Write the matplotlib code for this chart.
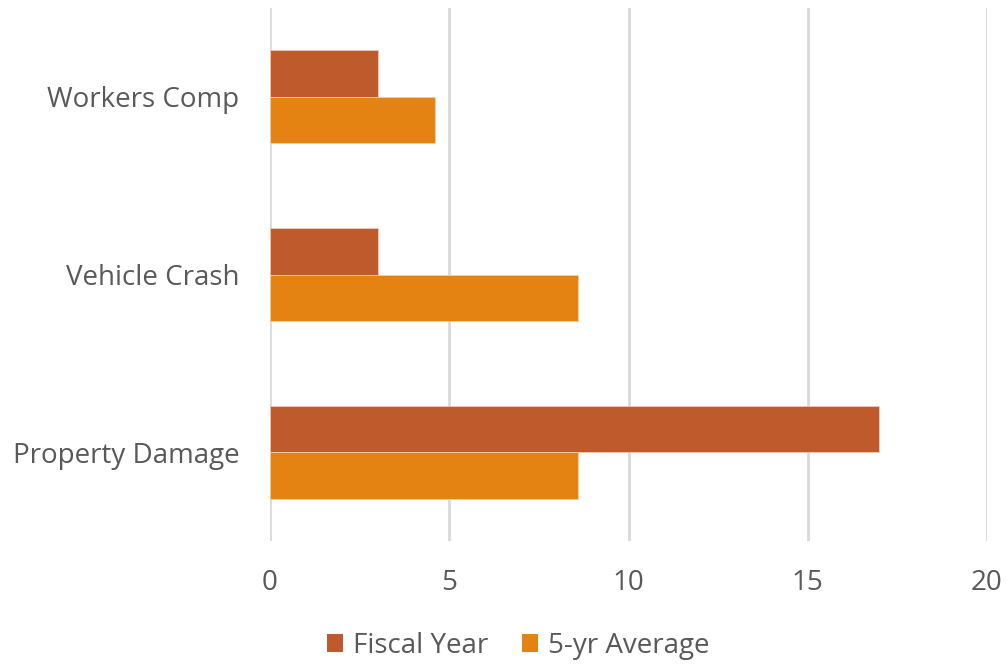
import matplotlib
matplotlib.use("Agg")
import matplotlib.pyplot as plt
import numpy as np
from matplotlib.patches import Patch

categories = ["Property Damage", "Vehicle Crash", "Workers Comp"]
fiscal_year = [17, 3, 3]
five_yr_avg = [8.6, 8.6, 4.6]
series_names = ["Fiscal Year", "5-yr Average"]
x_ticks = [0, 5, 10, 15, 20]

c_fiscal = "#BE5A2C"
c_avg = "#E48312"
text_color = "#595959"
grid_color = "#D9D9D9"
font = "Open Sans"
fsize = 20

fig = plt.figure(figsize=(10.06, 6.64), dpi=100)
ax = fig.add_axes([270/1006, 1 - 541/664, (987-270)/1006, (541-8)/664])

y = np.arange(len(categories))
h = 0.262
ax.barh(y + h/2, fiscal_year, height=h, color=c_fiscal, edgecolor="#F2C9B5", linewidth=0.6, zorder=3)
ax.barh(y - h/2, five_yr_avg, height=h, color=c_avg, edgecolor="#F6CFA0", linewidth=0.6, zorder=3)

ax.set_xlim(0, 20)
ax.set_ylim(-0.5, 2.5)
ax.set_xticks(x_ticks)
ax.set_xticklabels([str(t) for t in x_ticks])
ax.set_yticks(y)
ax.set_yticklabels(categories)
ax.grid(axis="x", color=grid_color, linewidth=2, zorder=0)
ax.set_axisbelow(True)
for s in ax.spines.values():
    s.set_visible(False)
ax.tick_params(axis="both", length=0, labelcolor=text_color, labelsize=fsize)
ax.tick_params(axis="x", pad=20)
ax.tick_params(axis="y", pad=22)
for lbl in ax.get_xticklabels() + ax.get_yticklabels():
    lbl.set_fontfamily(font)

handles = [Patch(facecolor=c_fiscal, edgecolor="none"), Patch(facecolor=c_avg, edgecolor="none")]
leg = fig.legend(handles, series_names, loc="center", bbox_to_anchor=(518/1006, 1 - 646/664),
                 ncol=2, frameon=False, handlelength=0.6, handleheight=0.6, handletextpad=0.35,
                 columnspacing=1.2, prop={"family": font, "size": fsize})
for t in leg.get_texts():
    t.set_color(text_color)

fig.savefig("out.png", dpi=100)
